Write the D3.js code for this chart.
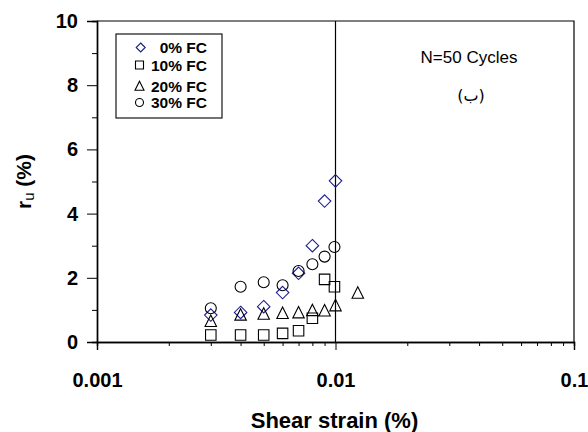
<!DOCTYPE html>
<html>
<head>
<meta charset="utf-8">
<script src="https://cdn.jsdelivr.net/npm/d3@7"></script>
<style>
  html, body { margin: 0; padding: 0; background: #fff; }
  svg { display: block; font-family: "Liberation Sans", Arial, sans-serif; }
</style>
</head>
<body>
<svg id="chart" width="588" height="432"></svg>
<script>
// Pore-pressure ratio vs. shear strain after N = 50 cycles
const strain0  = [0.003, 0.004, 0.005, 0.006, 0.007, 0.008, 0.009, 0.01];
const ru0      = [0.84, 0.92, 1.10, 1.54, 2.14, 3.00, 4.39, 5.02];
const strain10 = [0.003, 0.004, 0.005, 0.006, 0.007, 0.008, 0.009, 0.0099];
const ru10     = [0.22, 0.22, 0.22, 0.27, 0.35, 0.74, 1.95, 1.72];
const strain20 = [0.003, 0.004, 0.005, 0.006, 0.007, 0.008, 0.009, 0.01, 0.0124];
const ru20     = [0.66, 0.86, 0.89, 0.91, 0.93, 1.00, 0.99, 1.15, 1.54];
const strain30 = [0.003, 0.004, 0.005, 0.006, 0.007, 0.008, 0.009, 0.0099];
const ru30     = [1.05, 1.72, 1.86, 1.77, 2.21, 2.42, 2.66, 2.96];

const seriesNames = ["0% FC", "10% FC", "20% FC", "30% FC"];
const xTickValues = [0.001, 0.01, 0.1];
const xTickLabels = ["0.001", "0.01", "0.1"];
const yTickValues = [0, 2, 4, 6, 8, 10];

const svg = d3.select("#chart");
const plotLeft = 97, plotRight = 574, plotTop = 21, plotBottom = 342;

const x = d3.scaleLog().domain([0.001, 0.1]).range([plotLeft, plotRight]);
const y = d3.scaleLinear().domain([0, 10]).range([plotBottom, plotTop]);

const navy = "#1c1c8f";

// marker shapes (bbox centred on the point)
function markerPath(kind, s) {
  const h = s / 2;
  if (kind === "diamond") return `M0,${-h}L${h},0L0,${h}L${-h},0Z`;
  if (kind === "square") return `M${-h},${-h}H${h}V${h}H${-h}Z`;
  if (kind === "triangle") return `M0,${-h}L${h},${h}H${-h}Z`;
  // circle
  return `M${h},0A${h},${h} 0 1,1 ${-h},0A${h},${h} 0 1,1 ${h},0Z`;
}

const series = [
  { name: seriesNames[0], xs: strain0,  ys: ru0,  kind: "diamond",  color: navy,   size: 12.5, lsize: 9 },
  { name: seriesNames[1], xs: strain10, ys: ru10, kind: "square",   color: "#000", size: 10.5, lsize: 8 },
  { name: seriesNames[2], xs: strain20, ys: ru20, kind: "triangle", color: "#000", size: 11.5, lsize: 9 },
  { name: seriesNames[3], xs: strain30, ys: ru30, kind: "circle",   color: "#000", size: 11,   lsize: 8 }
];

// frame: top and right
svg.append("path")
  .attr("d", `M${plotLeft},${plotTop}H${plotRight}V${plotBottom}`)
  .attr("fill", "none").attr("stroke", "#000").attr("stroke-width", 1.2);

// vertical reference line at 0.01
svg.append("line")
  .attr("x1", x(0.01)).attr("x2", x(0.01))
  .attr("y1", plotTop).attr("y2", plotBottom)
  .attr("stroke", "#000").attr("stroke-width", 1.2);

// x axis with minor ticks
const xMinor = [];
[0.001, 0.01].forEach(d => { for (let k = 2; k <= 9; k++) xMinor.push(d * k); });
const xAxisMinor = d3.axisBottom(x).tickValues(xMinor).tickSize(4).tickFormat("");
const xAxis = d3.axisBottom(x).tickValues(xTickValues).tickSize(8)
  .tickFormat((d, i) => xTickLabels[i]);

const gxm = svg.append("g").attr("transform", `translate(0,${plotBottom})`).call(xAxisMinor);
const gx = svg.append("g").attr("transform", `translate(0,${plotBottom})`).call(xAxis);
[gx, gxm].forEach(g => {
  g.select(".domain").attr("stroke", "#000").attr("stroke-width", 1.4);
  g.selectAll(".tick line").attr("stroke", "#000").attr("stroke-width", 1);
});
gx.selectAll(".tick text")
  .attr("fill", "#000").attr("font-size", 20).attr("font-weight", "bold")
  .attr("font-family", "Liberation Sans, Arial, sans-serif")
  .attr("dy", null).attr("y", 45);

// y axis with minor ticks
const yAxisMinor = d3.axisLeft(y).tickValues([1, 3, 5, 7, 9]).tickSize(5).tickFormat("");
const yAxis = d3.axisLeft(y).tickValues(yTickValues).tickSize(10).tickPadding(9);
const gym = svg.append("g").attr("transform", `translate(${plotLeft},0)`).call(yAxisMinor);
const gy = svg.append("g").attr("transform", `translate(${plotLeft},0)`).call(yAxis);
[gy, gym].forEach(g => {
  g.select(".domain").attr("stroke", "#000").attr("stroke-width", 1.4);
  g.selectAll(".tick line").attr("stroke", "#000").attr("stroke-width", 1);
});
gy.selectAll(".tick text")
  .attr("fill", "#000").attr("font-size", 20).attr("font-weight", "bold")
  .attr("font-family", "Liberation Sans, Arial, sans-serif");

// axis titles
svg.append("text")
  .attr("x", 334.5).attr("y", 428)
  .attr("text-anchor", "middle")
  .attr("font-size", 22).attr("font-weight", "bold")
  .text("Shear strain (%)");

const yt = svg.append("text")
  .attr("transform", `translate(31,${(plotTop + plotBottom) / 2}) rotate(-90)`)
  .attr("text-anchor", "middle")
  .attr("font-size", 21).attr("font-weight", "bold");
yt.append("tspan").text("r");
yt.append("tspan").attr("font-size", 15).attr("font-weight", "normal").attr("dy", 3).text("u");
yt.append("tspan").attr("dy", -3).text(" (%)");

// data markers
series.forEach(s => {
  svg.append("g").selectAll("path")
    .data(s.xs.map((v, i) => [v, s.ys[i]]))
    .join("path")
    .attr("transform", d => `translate(${x(d[0])},${y(d[1])})`)
    .attr("d", markerPath(s.kind, s.size))
    .attr("fill", "none")
    .attr("stroke", s.color)
    .attr("stroke-width", 1.1);
});

// legend
const legend = svg.append("g");
legend.append("rect")
  .attr("x", 116).attr("y", 34).attr("width", 106).attr("height", 84)
  .attr("fill", "#fff").attr("stroke", "#000").attr("stroke-width", 1.1);
const legendRows = [47.5, 65, 85.8, 102.5];
series.forEach((s, i) => {
  legend.append("path")
    .attr("transform", `translate(${i === 0 ? 140.7 : 139.5},${legendRows[i]})`)
    .attr("d", markerPath(s.kind, s.lsize))
    .attr("fill", "none").attr("stroke", s.color).attr("stroke-width", 1.1);
  legend.append("text")
    .attr("x", 207).attr("y", legendRows[i] + 5.7)
    .attr("text-anchor", "end")
    .attr("font-size", 15.5).attr("font-weight", "bold")
    .text(s.name);
});

// annotations
svg.append("text")
  .attr("x", 469).attr("y", 63)
  .attr("text-anchor", "middle").attr("font-size", 17)
  .text("N=50 Cycles");
svg.append("text")
  .attr("x", 471).attr("y", 101)
  .attr("text-anchor", "middle").attr("font-size", 16)
  .attr("font-family", "DejaVu Sans, Noto Sans, sans-serif")
  .text("(ب)");
</script>
</body>
</html>
